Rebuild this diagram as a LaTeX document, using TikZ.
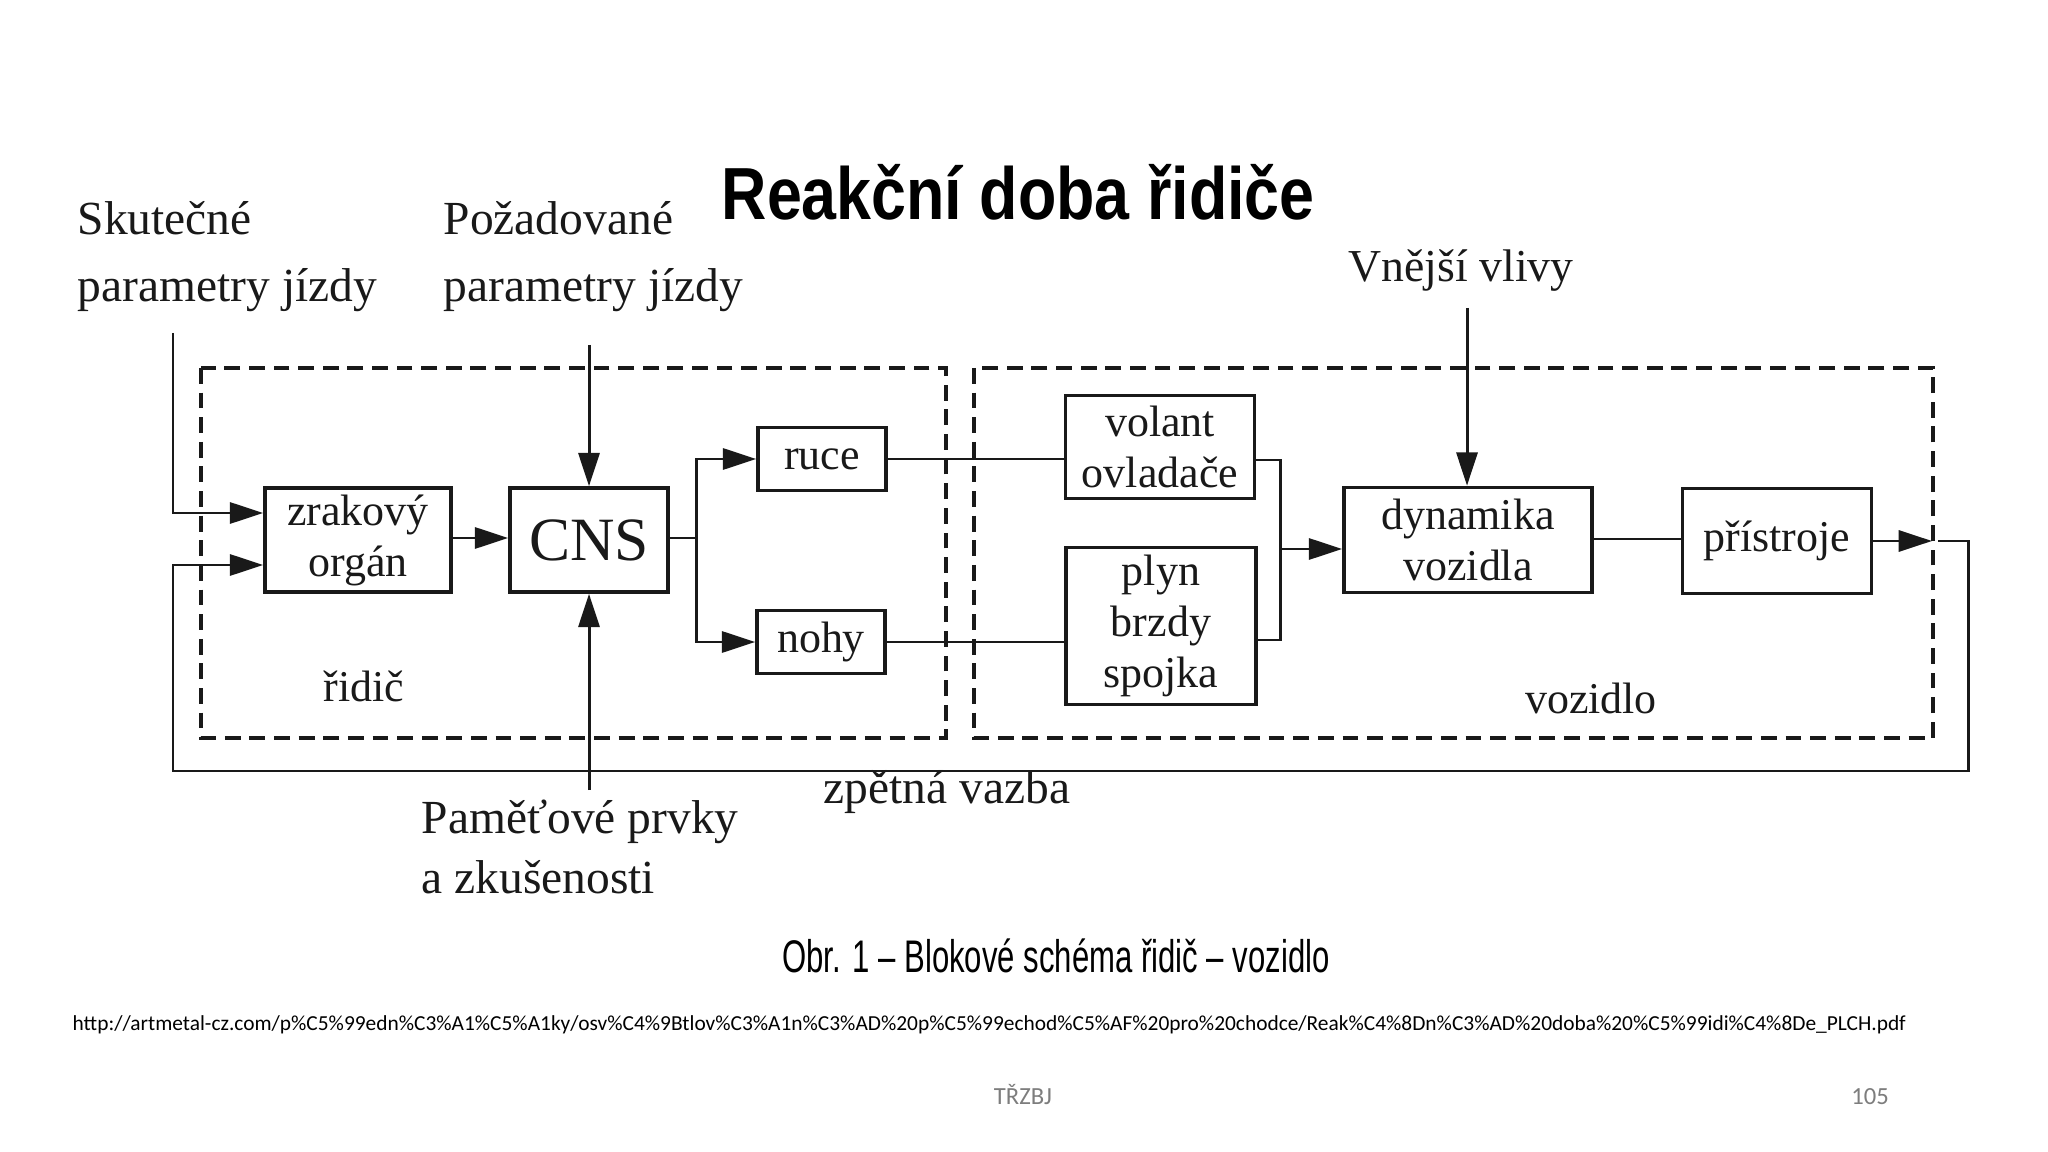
\documentclass[tikz,border=0pt]{standalone}
\usepackage{fontspec}
\setmainfont{Liberation Serif}
\newfontfamily\sansf{Liberation Sans}
\newfontfamily\calib{Carlito}
\usetikzlibrary{arrows.meta,calc}
\definecolor{ink}{RGB}{25,25,25}
\definecolor{foot}{RGB}{125,125,125}
\tikzset{
 blk/.style={draw=ink, line width=1pt, inner sep=0pt, align=center, font=\fontsize{12.5}{14.5}\selectfont, text=ink},
 conn/.style={draw=ink, line width=0.85pt},
 arr/.style={conn, -{Triangle[length=9.5pt,width=6pt]}},
 dbox/.style={draw=ink, line width=1pt, dash pattern=on 4.5pt off 2.5pt},
 lbl/.style={inner sep=0pt, anchor=base west, text=ink, font=\fontsize{13.5}{16}\selectfont},
 sublbl/.style={inner sep=0pt, anchor=base, text=ink, font=\fontsize{12.5}{14.5}\selectfont},
}
\begin{document}
\begin{tikzpicture}[x=0.01cm,y=-0.01cm]
\useasboundingbox (0,0) rectangle (2048,1152);
\fill[white] (0,0) rectangle (2048,1152);

% title
\node[anchor=base west, inner sep=0pt, text=black] (title) at (721,220)
  {\scalebox{0.85}[1]{\sansf\bfseries\fontsize{21}{24}\selectfont Reakční doba řidiče}};

% dashed regions
\draw[dbox] (201,368) rectangle (946,738);
\draw[dbox] (974,368) rectangle (1933,738);

% blocks
\node[blk, minimum width=1.86cm, minimum height=1.04cm] (zrak) at (358,540) {zrakový\\orgán};
\node[blk, minimum width=1.58cm, minimum height=1.04cm, font=\fontsize{17.5}{20}\selectfont] (cns) at (589,540) {CNS};
\node[blk, minimum width=1.28cm, minimum height=0.63cm] (ruce) at (822,459) {ruce};
\node[blk, minimum width=1.28cm, minimum height=0.63cm] (nohy) at (821,642) {nohy};
\node[blk, minimum width=1.89cm, minimum height=1.03cm] (volant) at (1160,447) {volant\\ovladače};
\node[blk, minimum width=1.90cm, minimum height=1.57cm] (plyn) at (1161,626) {plyn\\brzdy\\spojka};
\node[blk, minimum width=2.48cm, minimum height=1.05cm] (dyn) at (1468,540) {dynamika\\vozidla};
\node[blk, minimum width=1.89cm, minimum height=1.05cm] (prist) at (1777,541) {přístroje};

% labels
\node[lbl] (skut1) at (77,235) {Skutečné};
\node[lbl] (skut2) at (77,302) {parametry jízdy};
\node[lbl] (poz1) at (443,235) {Požadované};
\node[lbl] (poz2) at (443,302) {parametry jízdy};
\node[lbl, font=\fontsize{13}{16}\selectfont] (vnej) at (1348,282) {Vnější vlivy};
\node[lbl] (pam1) at (421,833) {Paměťové prvky};
\node[lbl] (pam2) at (421,893) {a zkušenosti};
\node[lbl] (zpet) at (823,803) {zpětná vazba};
\node[sublbl] (ridic) at (364,702) {řidič};
\node[sublbl] (vozidlo) at (1591,713) {vozidlo};

% free ends
\coordinate (skTop) at (173,333);
\coordinate (pzTop) at (589,345);
\coordinate (pmBot) at (589,790);
\coordinate (vnTop) at (1467,308);
\coordinate (split) at (696,538);
\coordinate (mg) at (1280,549);
\coordinate (fbTip) at (1932,541);
\coordinate (fbStart) at (1938,541);
\coordinate (fbR) at (1968,771);
\coordinate (fbL) at (173,565);

% connectors
\draw[arr] (skTop) |- (zrak.west |- 0,513);
\draw[arr] (fbStart) -| (fbR) -| (fbL) -- (zrak.west |- fbL);
\draw[arr] (zrak.east |- split) -- (cns.west |- split);
\draw[arr] (pzTop) -- (cns.north);
\draw[arr] (pmBot) -- (cns.south);
\draw[conn] (cns.east |- split) -- (split);
\draw[arr] (split) |- (ruce.west);
\draw[arr] (split) |- (nohy.west);
\draw[conn] (ruce.east) -- (volant.west |- ruce.east);
\draw[conn] (nohy.east) -- (plyn.west |- nohy.east);
\draw[conn] (volant.east |- 0,460) -| (mg);
\draw[conn] (plyn.east |- 0,640) -| (mg);
\draw[arr] (mg) -- (dyn.west |- mg);
\draw[arr] (vnTop) -- (dyn.north -| vnTop);
\draw[conn] (dyn.east |- 0,539) -- (prist.west |- 0,539);
\draw[arr] (prist.east |- fbTip) -- (fbTip);

% caption and footer
\node[anchor=base, inner sep=0pt, text=black] (caption) at (1056,972)
  {\scalebox{0.68}[1]{\sansf\fontsize{13}{15}\selectfont Obr. 1 – Blokové schéma řidič – vozidlo}};
\node[anchor=base west, inner sep=0pt, text=black] (url) at (72,1030)
  {\resizebox{18.32cm}{!}{\calib http://artmetal-cz.com/p\%C5\%99edn\%C3\%A1\%C5\%A1ky/osv\%C4\%9Btlov\%C3\%A1n\%C3\%AD\%20p\%C5\%99echod\%C5\%AF\%20pro\%20chodce/Reak\%C4\%8Dn\%C3\%AD\%20doba\%20\%C5\%99idi\%C4\%8De\_PLCH.pdf}};
\node[anchor=base, inner sep=0pt, text=foot, font=\calib\fontsize{7}{8}\selectfont] (trzbj) at (1023,1104) {TŘZBJ};
\node[anchor=base, inner sep=0pt, text=foot, font=\calib\fontsize{7}{8}\selectfont] (pg) at (1870,1104) {105};
\end{tikzpicture}
\end{document}
